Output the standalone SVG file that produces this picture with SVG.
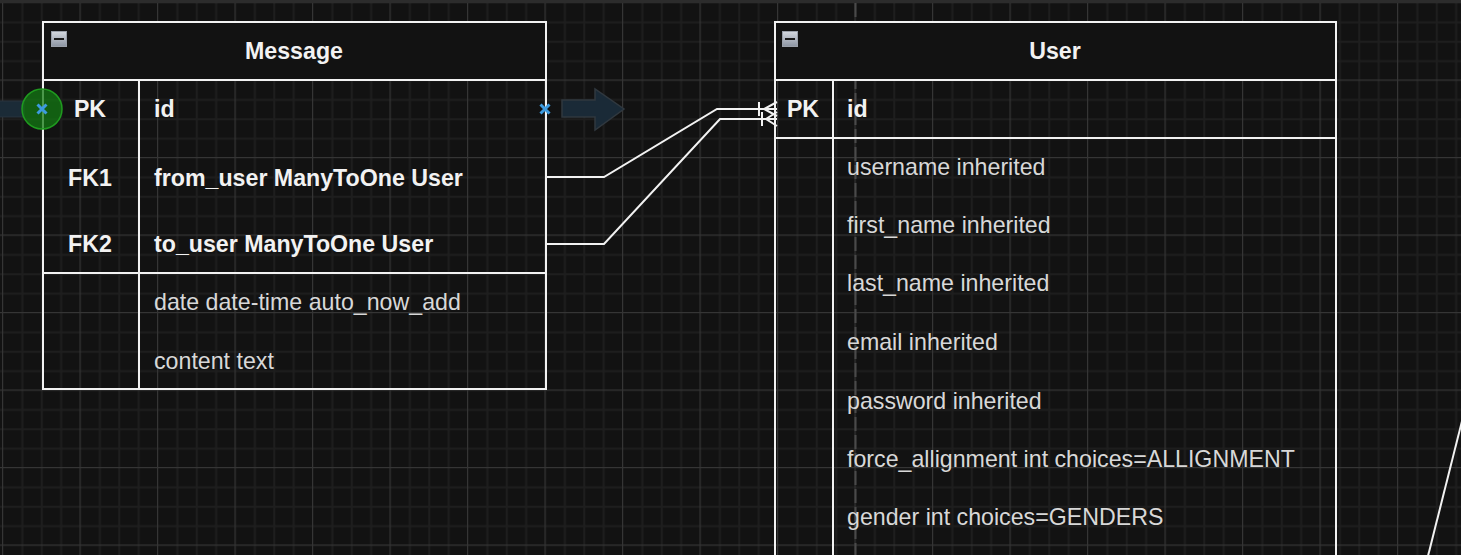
<svg xmlns="http://www.w3.org/2000/svg" width="1461" height="555" viewBox="0 0 1461 555">
  <style>
    .tbl { fill: none; stroke: #f2f2f2; stroke-width: 2; }
    .hdr { fill: #121212; stroke: #f2f2f2; stroke-width: 2; }
    .sep { stroke: #f2f2f2; stroke-width: 2; fill: none; }
    .title { font-family: "Liberation Sans", Arial, sans-serif; font-size: 23.2px; font-weight: bold; fill: #f2f2f2; text-anchor: middle; }
    .key { font-family: "Liberation Sans", Arial, sans-serif; font-size: 23.2px; font-weight: bold; fill: #f2f2f2; }
    .keyc { text-anchor: middle; }
    .fld { font-family: "Liberation Sans", Arial, sans-serif; font-size: 23.2px; fill: #d8d8d8; }
    .conn { fill: none; stroke: #f2f2f2; stroke-width: 2; }
    .xmark { stroke: #3d9be0; stroke-width: 3; fill: none; }
  </style>
  <defs>
    <pattern id="grid" x="2" y="2" width="77.5" height="77.5" patternUnits="userSpaceOnUse">
      <rect x="19.375" y="0" width="2" height="77.5" fill="#1e1e1e"/>
      <rect x="38.75" y="0" width="2" height="77.5" fill="#1e1e1e"/>
      <rect x="58.125" y="0" width="2" height="77.5" fill="#1e1e1e"/>
      <rect x="0" y="19.375" width="77.5" height="2" fill="#1e1e1e"/>
      <rect x="0" y="38.75" width="77.5" height="2" fill="#1e1e1e"/>
      <rect x="0" y="58.125" width="77.5" height="2" fill="#1e1e1e"/>
      <rect x="0" y="0" width="1.2" height="77.5" fill="#353535"/>
      <rect x="0" y="0" width="77.5" height="1.2" fill="#353535"/>
    </pattern>
    <linearGradient id="btn" x1="0" y1="0" x2="0" y2="1">
      <stop offset="0" stop-color="#d5d9e0"/>
      <stop offset="1" stop-color="#8c94a2"/>
    </linearGradient>
  </defs>

  <!-- background -->
  <rect x="0" y="0" width="1461" height="555" fill="#121212"/>
  <rect x="0" y="3" width="1461" height="552" fill="url(#grid)"/>
  <rect x="0" y="0" width="1461" height="3" fill="#2c2c2c"/>
  <line x1="855.5" y1="3" x2="855.5" y2="555" stroke="#4a4a4a" stroke-width="2" stroke-dasharray="14 4"/>

  <!-- decorations -->
  <rect x="-2" y="101" width="26" height="16" fill="#1b2b37" stroke="#2b353e" stroke-width="1"/>
  <path d="M562,100 L595,100 L595,89 L624,109 L595,130 L595,117 L562,117 Z" fill="#1a2a37" stroke="#30383f" stroke-width="1.5"/>

  <!-- Message table -->
  <g id="message">
    <rect class="hdr" x="43" y="22" width="503" height="58"/>
    <rect class="tbl" x="43" y="22" width="503" height="367"/>
    <line class="sep" x1="43" y1="273" x2="546" y2="273"/>
    <line class="sep" x1="139" y1="80" x2="139" y2="389"/>
    <rect x="51.5" y="31.5" width="15" height="15" fill="url(#btn)" stroke="#9aa0aa" stroke-width="1"/>
    <line x1="54" y1="39" x2="64" y2="39" stroke="#1a1a1a" stroke-width="2"/>
    <text class="title" x="294" y="59">Message</text>
    <text class="key keyc" x="90" y="117">PK</text>
    <text class="key" x="154" y="117">id</text>
    <text class="key keyc" x="90" y="186">FK1</text>
    <text class="key" x="154" y="186">from_user ManyToOne User</text>
    <text class="key keyc" x="90" y="252">FK2</text>
    <text class="key" x="154" y="252">to_user ManyToOne User</text>
    <text class="fld" x="154" y="310">date date-time auto_now_add</text>
    <text class="fld" x="154" y="369">content text</text>
  </g>

  <!-- User table -->
  <g id="user">
    <rect class="hdr" x="775" y="22" width="561" height="58"/>
    <rect class="tbl" x="775" y="22" width="561" height="545"/>
    <line class="sep" x1="775" y1="138" x2="1336" y2="138"/>
    <line class="sep" x1="833" y1="80" x2="833" y2="560"/>
    <rect x="782.5" y="31.5" width="15" height="15" fill="url(#btn)" stroke="#9aa0aa" stroke-width="1"/>
    <line x1="785" y1="39" x2="795" y2="39" stroke="#1a1a1a" stroke-width="2"/>
    <text class="title" x="1055" y="59">User</text>
    <text class="key keyc" x="803" y="117">PK</text>
    <text class="key" x="847" y="117">id</text>
    <text class="fld" x="847" y="175">username inherited</text>
    <text class="fld" x="847" y="233">first_name inherited</text>
    <text class="fld" x="847" y="291">last_name inherited</text>
    <text class="fld" x="847" y="350">email inherited</text>
    <text class="fld" x="847" y="409">password inherited</text>
    <text class="fld" x="847" y="467">force_allignment int choices=ALLIGNMENT</text>
    <text class="fld" x="847" y="525">gender int choices=GENDERS</text>
  </g>

  <!-- connectors -->
  <g id="connectors">
    <polyline class="conn" points="547,177 604,177 717,109 777,109"/>
    <polyline class="conn" points="547,244 604,244 720,119 777,119"/>
    <line class="conn" x1="759" y1="102" x2="759" y2="116"/>
    <path class="conn" d="M777,102 L764,109 L777,116"/>
    <line class="conn" x1="762" y1="112" x2="762" y2="126"/>
    <path class="conn" d="M777,112 L766,119 L777,126"/>
    <line class="conn" x1="1462" y1="421" x2="1428" y2="556"/>
  </g>

  <!-- selection handles -->
  <circle cx="42" cy="109" r="20" fill="#137a13" fill-opacity="0.75" stroke="#1f9a1f" stroke-width="1.5"/>
  <path class="xmark" d="M37.5,104.5 L46.5,113.5 M46.5,104.5 L37.5,113.5"/>
  <path class="xmark" d="M540.5,104.5 L549.5,113.5 M549.5,104.5 L540.5,113.5"/>
</svg>
